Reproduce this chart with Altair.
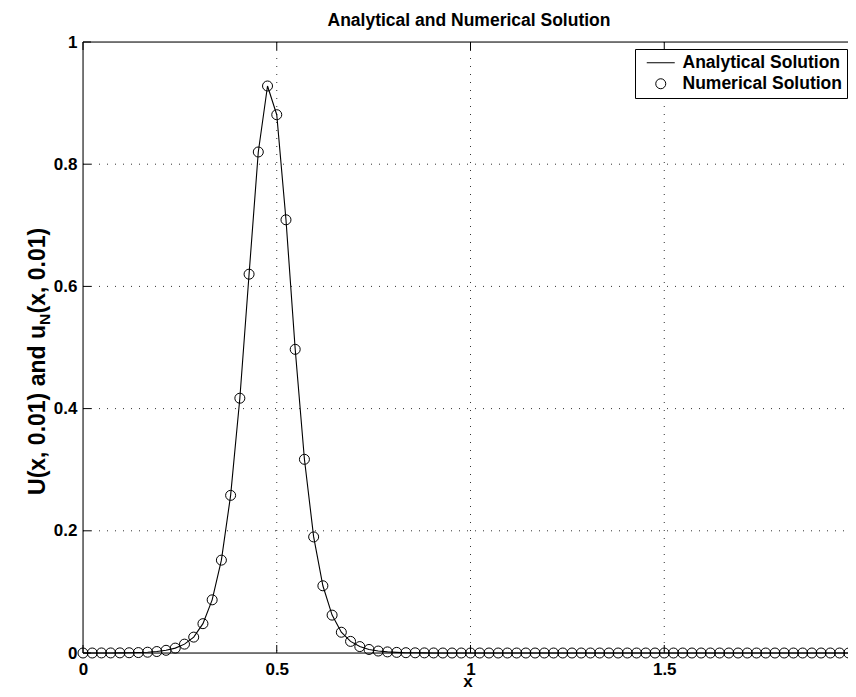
import altair as alt
import pandas as pd

# grid x_i = i/42, i = 0..84
X_VALUES = [i / 42 for i in range(85)]

NUMERICAL = [
    0.0, 0.0, 0.0001, 0.0001, 0.0002, 0.0004, 0.0007, 0.0013, 0.0024, 0.0044,
    0.008, 0.0145, 0.026, 0.048, 0.087, 0.152, 0.258, 0.417, 0.62, 0.82,
    0.928, 0.881, 0.709, 0.497, 0.317, 0.19, 0.11, 0.062, 0.034, 0.019,
    0.0105, 0.0058, 0.0032, 0.0018, 0.001, 0.0005, 0.0003, 0.0002, 0.0001, 0.0,
] + [0.0] * 45

ANALYTICAL = list(NUMERICAL)

X_TICKS = [0, 0.5, 1, 1.5, 2]
Y_TICKS = [0, 0.2, 0.4, 0.6, 0.8, 1]
X_GRID = [0.5, 1, 1.5]
Y_GRID = [0.2, 0.4, 0.6, 0.8]
SERIES = ["Analytical Solution", "Numerical Solution"]

W, H = 765, 611        # visible plot width (window cuts the box on the right)
XR = 775               # pixel position of x = 2
FONT = "Liberation Sans"

ana = pd.DataFrame({"x": X_VALUES, "u": ANALYTICAL, "series": SERIES[0]})
num = pd.DataFrame({"x": X_VALUES, "u": NUMERICAL, "series": SERIES[1]})
xt = pd.DataFrame({"x": X_TICKS})
yt = pd.DataFrame({"u": Y_TICKS})
xg = pd.DataFrame({"x": X_GRID})
yg = pd.DataFrame({"u": Y_GRID})
one = pd.DataFrame({"k": [0]})

xscale = alt.Scale(domain=[0, 2], range=[0, XR], nice=False, zero=False)
yscale = alt.Scale(domain=[0, 1], nice=False, zero=False)

ax_kw = dict(grid=False, domain=False, ticks=False, labelFont=FONT, labelFontSize=17,
             labelFontWeight="bold", labelColor="black", format="~g", title="",
             labelFlush=False, labelOverlap=False)

line = alt.Chart(ana).mark_line(color="black", strokeWidth=1.1).encode(
    x=alt.X("x:Q", scale=xscale, axis=alt.Axis(values=X_TICKS, labelPadding=8, **ax_kw)),
    y=alt.Y("u:Q", scale=yscale, axis=alt.Axis(values=Y_TICKS, labelPadding=6, **ax_kw)),
)

pts = alt.Chart(num).mark_point(filled=False, color="black", size=100,
                                strokeWidth=1, opacity=1).encode(
    x=alt.X("x:Q", scale=xscale),
    y=alt.Y("u:Q", scale=yscale),
    shape=alt.Shape("series:N",
                    scale=alt.Scale(domain=SERIES, range=["M-2.8,0H2.8", "circle"]),
                    legend=alt.Legend(title=None, orient="none", legendX=552, legendY=7,
                                      strokeColor="black", fillColor="white",
                                      padding=5, rowPadding=2, symbolOffset=12,
                                      labelOffset=13, labelFont=FONT,
                                      labelFontSize=17.5, labelFontWeight="bold",
                                      labelColor="black", symbolStrokeColor="black",
                                      symbolFillColor="white", symbolStrokeWidth=1,
                                      symbolSize=100)),
)

grid_kw = dict(color="#333", strokeWidth=1, strokeDash=[1, 7])
gx = alt.Chart(xg).mark_rule(**grid_kw).encode(
    x=alt.X("x:Q", scale=xscale), y=alt.value(0), y2=alt.value(H))
gy = alt.Chart(yg).mark_rule(**grid_kw).encode(
    y=alt.Y("u:Q", scale=yscale), x=alt.value(0), x2=alt.value(XR))

tick_len = 8
rk = dict(color="black", strokeWidth=1)
bx = alt.Chart(xt).mark_rule(**rk).encode(
    x=alt.X("x:Q", scale=xscale), y=alt.value(H), y2=alt.value(H - tick_len))
tx = alt.Chart(xt).mark_rule(**rk).encode(
    x=alt.X("x:Q", scale=xscale), y=alt.value(0), y2=alt.value(tick_len))
ly = alt.Chart(yt).mark_rule(**rk).encode(
    y=alt.Y("u:Q", scale=yscale), x=alt.value(0), x2=alt.value(tick_len))
ry = alt.Chart(yt).mark_rule(**rk).encode(
    y=alt.Y("u:Q", scale=yscale), x=alt.value(XR), x2=alt.value(XR - tick_len))

# axes box
box_b = alt.Chart(one).mark_rule(**rk).encode(x=alt.value(0), x2=alt.value(XR), y=alt.value(H))
box_t = alt.Chart(one).mark_rule(**rk).encode(x=alt.value(0), x2=alt.value(XR), y=alt.value(0))
box_l = alt.Chart(one).mark_rule(**rk).encode(x=alt.value(0), y=alt.value(0), y2=alt.value(H))
box_r = alt.Chart(one).mark_rule(**rk).encode(x=alt.value(XR), y=alt.value(0), y2=alt.value(H))

txt = dict(font=FONT, fontWeight="bold", color="black")
title = alt.Chart(one).mark_text(text="Analytical and Numerical Solution", fontSize=17.5,
                                 align="center", baseline="alphabetic", **txt).encode(
    x=alt.value(386), y=alt.value(-16))
xtitle = alt.Chart(one).mark_text(text="x", fontSize=17, align="center",
                                  baseline="middle", **txt).encode(
    x=alt.value(385), y=alt.value(H + 29))

A = 283
rot = dict(angle=270, baseline="middle", **txt)
t1 = alt.Chart(one).mark_text(text="U(x, 0.01) and u", align="right", fontSize=23, **rot).encode(
    x=alt.value(-45), y=alt.value(A))
t2 = alt.Chart(one).mark_text(text="N", align="left", fontSize=15.5, **rot).encode(
    x=alt.value(-38), y=alt.value(A))
t3 = alt.Chart(one).mark_text(text="(x, 0.01)", align="left", fontSize=23, **rot).encode(
    x=alt.value(-45), y=alt.value(A - 11.5))

chart = alt.layer(gx, gy, line, pts, bx, tx, ly, ry, box_b, box_t, box_l, box_r,
                  title, xtitle, t1, t2, t3).properties(
    width=W, height=H,
    autosize=alt.AutoSizeParams(type="none"),
    padding={"left": 75, "top": 34, "right": 0, "bottom": 36},
).configure_view(stroke=None).configure(background="white")

chart.save("out.html", embed_options={"renderer": "svg", "actions": False})
